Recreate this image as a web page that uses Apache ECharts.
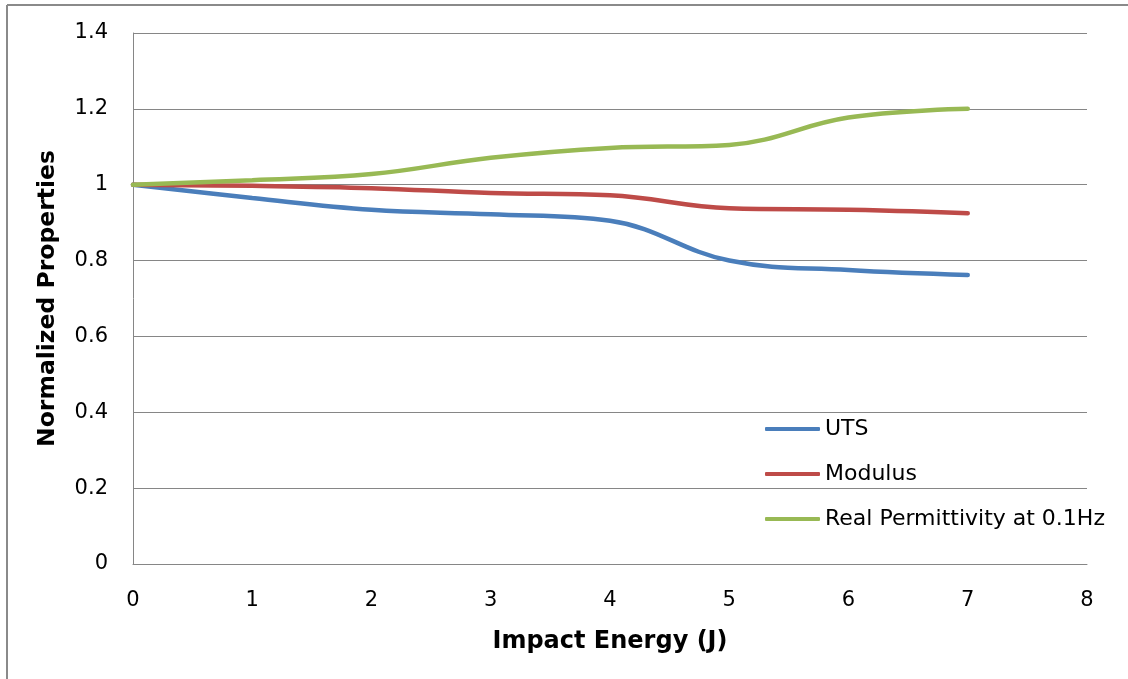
<!DOCTYPE html>
<html>
<head>
<meta charset="utf-8">
<script src="https://cdn.jsdelivr.net/npm/echarts@6/dist/echarts.min.js"></script>
<style>
html,body{margin:0;padding:0;background:#fff;}
#chart{width:1128px;height:679px;}
</style>
</head>
<body>
<div id="chart"></div>
<script>
var energy = [0, 1, 2, 3, 4, 5, 6, 7];
var uts = [1, 0.965, 0.934, 0.922, 0.905, 0.800, 0.775, 0.762];
var modulus = [1, 0.997, 0.991, 0.978, 0.972, 0.938, 0.934, 0.925];
var permittivity = [1, 1.012, 1.028, 1.071, 1.097, 1.105, 1.177, 1.200];
var seriesNames = ['UTS', 'Modulus', 'Real Permittivity at 0.1Hz'];
var colors = ['#4A7EBB', '#BE4B48', '#98B954'];

function pairs(ys) { return energy.map(function (x, i) { return [x, ys[i]]; }); }

var font = '"DejaVu Sans", sans-serif';
var chart = echarts.init(document.getElementById('chart'));
var seriesData = [uts, modulus, permittivity];
chart.setOption({
  animation: false,
  backgroundColor: '#fff',
  graphic: [
    { type: 'line', shape: { x1: 7, y1: 5, x2: 1128, y2: 5 }, style: { stroke: '#8a8a8a', lineWidth: 2 } },
    { type: 'line', shape: { x1: 7, y1: 5, x2: 7, y2: 679 }, style: { stroke: '#8a8a8a', lineWidth: 2 } }
  ],
  grid: { left: 133, right: 41, top: 33, bottom: 115, containLabel: false },
  legend: {
    orient: 'vertical',
    left: 765,
    top: 415,
    padding: 0,
    icon: 'roundRect',
    itemWidth: 55,
    itemHeight: 4,
    itemGap: 17,
    textStyle: { fontFamily: font, fontSize: 22, color: '#000', lineHeight: 28 },
    data: seriesNames
  },
  xAxis: {
    type: 'value',
    min: 0, max: 8, interval: 1,
    name: 'Impact Energy (J)',
    nameLocation: 'middle',
    nameGap: 66,
    nameTextStyle: { fontFamily: font, fontSize: 24, fontWeight: 'bold', color: '#000' },
    axisLine: { show: true, lineStyle: { color: '#868686', width: 1 } },
    axisTick: { show: false },
    splitLine: { show: false },
    axisLabel: { fontFamily: font, fontSize: 21, color: '#000', margin: 26 }
  },
  yAxis: {
    type: 'value',
    min: 0, max: 1.4, interval: 0.2,
    name: 'Normalized Properties',
    nameLocation: 'middle',
    nameGap: 73,
    nameRotate: 90,
    nameTextStyle: { fontFamily: font, fontSize: 23.5, fontWeight: 'bold', color: '#000' },
    axisLine: { show: true, lineStyle: { color: '#868686', width: 1 } },
    axisTick: { show: false },
    splitLine: { show: true, lineStyle: { color: '#868686', width: 1 } },
    axisLabel: {
      fontFamily: font, fontSize: 21, color: '#000', margin: 25,
      padding: [4, 0, 0, 0],
      formatter: function (v) { return String(Math.round(v * 10) / 10); }
    }
  },
  series: seriesNames.map(function (n, i) {
    return {
      name: n,
      type: 'line',
      smooth: 0.4,
      symbol: 'none',
      data: pairs(seriesData[i]),
      lineStyle: { color: colors[i], width: 4.5, cap: 'round' },
      itemStyle: { color: colors[i] }
    };
  })
});
</script>
</body>
</html>
